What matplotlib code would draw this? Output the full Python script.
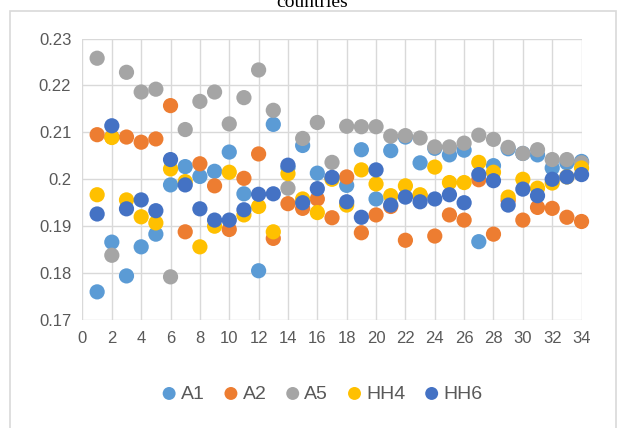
import matplotlib
matplotlib.use("Agg")
import matplotlib.pyplot as plt
from matplotlib.patches import Rectangle

# values, one per country (x = 1..34)
countries = list(range(1, 35))
A1 = [0.1760, 0.1866, 0.1794, 0.1856, 0.1883, 0.1988, 0.2027, 0.2006, 0.2017, 0.2058,
      0.1969, 0.1805, 0.2117, 0.2025, 0.2072, 0.2013, 0.2003, 0.1987, 0.2063, 0.1958,
      0.2061, 0.2090, 0.2035, 0.2066, 0.2052, 0.2062, 0.1867, 0.2029, 0.2065, 0.2055,
      0.2052, 0.2024, 0.2035, 0.2038]
A2 = [0.2095, 0.2090, 0.2090, 0.2079, 0.2086, 0.2157, 0.1888, 0.2033, 0.1986, 0.1893,
      0.2002, 0.2054, 0.1874, 0.1948, 0.1938, 0.1958, 0.1918, 0.2005, 0.1886, 0.1924,
      0.1942, 0.1870, 0.1965, 0.1879, 0.1924, 0.1913, 0.1999, 0.1883, 0.1955, 0.1913,
      0.1940, 0.1938, 0.1919, 0.1910]
A5 = [0.2258, 0.1838, 0.2228, 0.2186, 0.2192, 0.1792, 0.2106, 0.2166, 0.2186, 0.2118,
      0.2174, 0.2233, 0.2147, 0.1981, 0.2087, 0.2121, 0.2036, 0.2113, 0.2112, 0.2112,
      0.2092, 0.2093, 0.2088, 0.2069, 0.2069, 0.2077, 0.2094, 0.2085, 0.2068, 0.2055,
      0.2063, 0.2042, 0.2042, 0.2035]
HH4 = [0.1967, 0.2089, 0.1956, 0.1920, 0.1907, 0.2022, 0.1995, 0.1856, 0.1900, 0.2015,
       0.1924, 0.1942, 0.1888, 0.2012, 0.1958, 0.1929, 0.2000, 0.1945, 0.2020, 0.1990,
       0.1965, 0.1986, 0.1967, 0.2026, 0.1993, 0.1993, 0.2036, 0.2015, 0.1962, 0.2000,
       0.1981, 0.1992, 0.2005, 0.2024]
HH6 = [0.1926, 0.2114, 0.1937, 0.1956, 0.1933, 0.2042, 0.1988, 0.1937, 0.1913, 0.1913,
       0.1935, 0.1968, 0.1969, 0.2030, 0.1950, 0.1980, 0.2004, 0.1952, 0.1919, 0.2020,
       0.1945, 0.1962, 0.1952, 0.1958, 0.1967, 0.1950, 0.2010, 0.1997, 0.1945, 0.1979,
       0.1965, 0.2000, 0.2005, 0.2010]

series_names = ["A1", "A2", "A5", "HH4", "HH6"]
series_values = [A1, A2, A5, HH4, HH6]
colors = ["#5B9BD5", "#ED7D31", "#A5A5A5", "#FFC000", "#4472C4"]

x_ticks = list(range(0, 35, 2))
y_ticks = [0.17, 0.18, 0.19, 0.2, 0.21, 0.22, 0.23]
y_labels = ["0.17", "0.18", "0.19", "0.2", "0.21", "0.22", "0.23"]

plt.rcParams['font.family'] = ['Liberation Sans', 'DejaVu Sans']

fig = plt.figure(figsize=(6.2, 4.28), dpi=100)
ax = fig.add_axes([0.133, 0.2523, 0.805, 0.6577])

# chart area frame (Excel style)
fig.patches.append(Rectangle((10 / 620, -0.01), 606 / 620, 1 - 11 / 428 + 0.01,
                             transform=fig.transFigure, fill=False,
                             edgecolor="#d9d9d9", linewidth=1.2))

for name, vals, c in zip(series_names, series_values, colors):
    ax.scatter(countries, vals, s=120, color=c, edgecolors="none",
               label=name, clip_on=False, zorder=3)

ax.set_xlim(0, 34)
ax.set_ylim(0.17, 0.23)
ax.set_xticks(x_ticks)
ax.set_yticks(y_ticks)
ax.set_yticklabels(y_labels)
ax.grid(True, color="#d9d9d9", linewidth=1)
ax.set_axisbelow(True)
for s in ax.spines.values():
    s.set_visible(False)
ax.tick_params(length=0, labelsize=12, labelcolor="#595959", pad=8)

ax.legend(loc="center", bbox_to_anchor=(0.52, 0.08), bbox_transform=fig.transFigure,
          ncol=5, frameon=False, fontsize=14, labelcolor="#595959",
          handlelength=0.7, handletextpad=0.25, columnspacing=1.0, markerscale=0.85)

# title cut off at the top of the image, as in the source
fig.text(0.503, 0.993, "countries", ha="center", va="center",
         fontsize=14, family="Liberation Serif")

fig.savefig("out.png", dpi=100)
